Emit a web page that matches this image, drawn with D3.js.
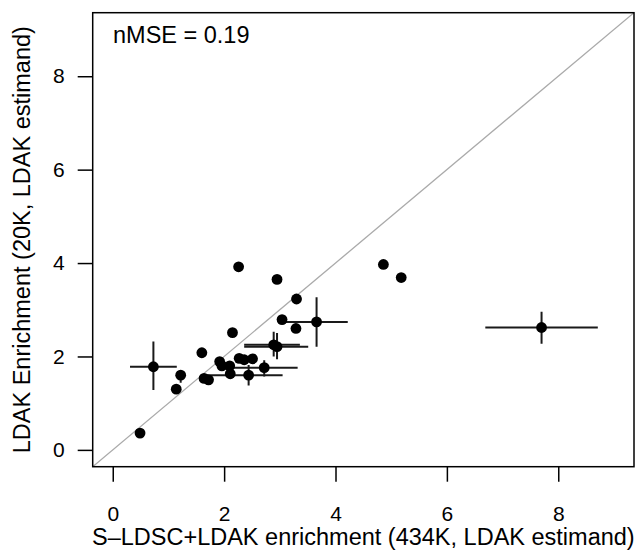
<!DOCTYPE html>
<html>
<head>
<meta charset="utf-8">
<script src="https://cdn.jsdelivr.net/npm/d3@7"></script>
<style>
  html, body { margin: 0; padding: 0; background: #fff; }
  svg { display: block; }
  text { font-family: "Liberation Sans", Arial, Helvetica, sans-serif; fill: #000; }
</style>
</head>
<body>
<svg id="chart" width="641" height="552"></svg>
<script>
// ---- data ----
const xVals = [0.49, 0.73, 1.14, 1.22, 1.60, 1.64, 1.72, 1.92, 1.96, 2.10, 2.11, 2.15, 2.26, 2.27,
               2.36, 2.51, 2.44, 2.72, 2.89, 2.95, 2.95, 3.04, 3.29, 3.30, 3.66, 4.86, 5.18, 7.70];
const yVals = [0.36, 1.78, 1.30, 1.60, 2.08, 1.53, 1.50, 1.89, 1.80, 1.80, 1.63, 2.51, 3.92, 1.96,
               1.93, 1.95, 1.60, 1.76, 2.25, 2.21, 3.65, 2.79, 2.60, 3.23, 2.74, 3.97, 3.69, 2.62];
// error bar ends (null = no visible bar)
const xLow  = [null, 0.31, null, null, null, null, null, null, null, null, null, null, null, null,
               null, null, 1.63, 2.02, 2.36, 2.36, null, null, null, null, 3.11, null, null, 6.69];
const xHigh = [null, 1.15, null, null, null, null, null, null, null, null, null, null, null, null,
               null, null, 3.05, 3.32, 3.36, 3.51, null, null, null, null, 4.22, null, null, 8.71];
const yLow  = [null, 1.28, null, 1.44, null, null, null, null, null, null, null, null, null, null,
               null, null, 1.38, 1.57, 2.00, 1.94, null, null, null, null, 2.21, null, null, 2.27];
const yHigh = [null, 2.32, null, 1.71, null, null, null, null, null, null, null, null, null, null,
               null, null, 1.82, 1.92, 2.53, 2.50, null, null, null, null, 3.27, null, null, 2.96];
const xTicks = [0, 2, 4, 6, 8];
const yTicks = [0, 2, 4, 6, 8];
const xLim = [0, 9];
const yLim = [0, 9];
const xTitle = "S\u2013LDSC+LDAK enrichment (434K, LDAK estimand)";
const yTitle = "LDAK Enrichment (20K, LDAK estimand)";
const annotation = "nMSE = 0.19";

// ---- layout ----
const plot = { left: 92.7, right: 634, top: 12.7, bottom: 466.7 };
const ext = v => { const d = (v[1] - v[0]) * 0.04; return [v[0] - d, v[1] + d]; };

const x = d3.scaleLinear().domain(ext(xLim)).range([plot.left, plot.right]);
const y = d3.scaleLinear().domain(ext(yLim)).range([plot.bottom, plot.top]);

const svg = d3.select("#chart");

const pts = xVals.map((v, i) => ({ x: v, y: yVals[i], xl: xLow[i], xh: xHigh[i], yl: yLow[i], yh: yHigh[i] }));

// clip
svg.append("clipPath").attr("id", "clip").append("rect")
  .attr("x", plot.left).attr("y", plot.top)
  .attr("width", plot.right - plot.left).attr("height", plot.bottom - plot.top);

const g = svg.append("g").attr("clip-path", "url(#clip)");

// identity line
const dmin = Math.min(x.domain()[0], y.domain()[0]);
const dmax = Math.max(x.domain()[1], y.domain()[1]);
g.append("line")
  .attr("x1", x(dmin)).attr("y1", y(dmin))
  .attr("x2", x(dmax)).attr("y2", y(dmax))
  .attr("stroke", "#aaaaaa").attr("stroke-width", 1.3);

// error bars
g.selectAll("line.xerr").data(pts.filter(p => p.xl !== null)).enter().append("line")
  .attr("class", "xerr")
  .attr("x1", p => x(p.xl)).attr("x2", p => x(p.xh))
  .attr("y1", p => y(p.y)).attr("y2", p => y(p.y))
  .attr("stroke", "#1a1a1a").attr("stroke-width", 2);
g.selectAll("line.yerr").data(pts.filter(p => p.yl !== null)).enter().append("line")
  .attr("class", "yerr")
  .attr("x1", p => x(p.x)).attr("x2", p => x(p.x))
  .attr("y1", p => y(p.yl)).attr("y2", p => y(p.yh))
  .attr("stroke", "#1a1a1a").attr("stroke-width", 2);

// points
g.selectAll("circle").data(pts).enter().append("circle")
  .attr("cx", p => x(p.x)).attr("cy", p => y(p.y))
  .attr("r", 5.4).attr("fill", "#000");

// frame
svg.append("rect")
  .attr("x", plot.left).attr("y", plot.top)
  .attr("width", plot.right - plot.left).attr("height", plot.bottom - plot.top)
  .attr("fill", "none").attr("stroke", "#000").attr("stroke-width", 1.5);

// axes
const xAxis = d3.axisBottom(x).tickValues(xTicks).tickSize(15).tickPadding(24).tickSizeOuter(0);
const yAxis = d3.axisLeft(y).tickValues(yTicks).tickSize(15).tickPadding(13).tickSizeOuter(0);

const gx = svg.append("g").attr("transform", `translate(0,${plot.bottom})`).call(xAxis);
const gy = svg.append("g").attr("transform", `translate(${plot.left},0)`).call(yAxis);
[gx, gy].forEach(a => {
  a.select(".domain").remove();
  a.selectAll(".tick line").attr("stroke", "#000").attr("stroke-width", 1.5);
  a.selectAll(".tick text").attr("font-size", 21).attr("fill", "#000")
    .attr("font-family", "'Liberation Sans', Arial, Helvetica, sans-serif");
});

// titles
svg.append("text")
  .attr("x", (plot.left + plot.right) / 2).attr("y", 545)
  .attr("text-anchor", "middle").attr("font-size", 23.5)
  .text(xTitle);
svg.append("text")
  .attr("transform", `translate(30,${(plot.top + plot.bottom) / 2}) rotate(-90)`)
  .attr("text-anchor", "middle").attr("font-size", 23.5)
  .text(yTitle);

// annotation
svg.append("text")
  .attr("x", 113).attr("y", 43)
  .attr("font-size", 23.5)
  .text(annotation);
</script>
</body>
</html>
